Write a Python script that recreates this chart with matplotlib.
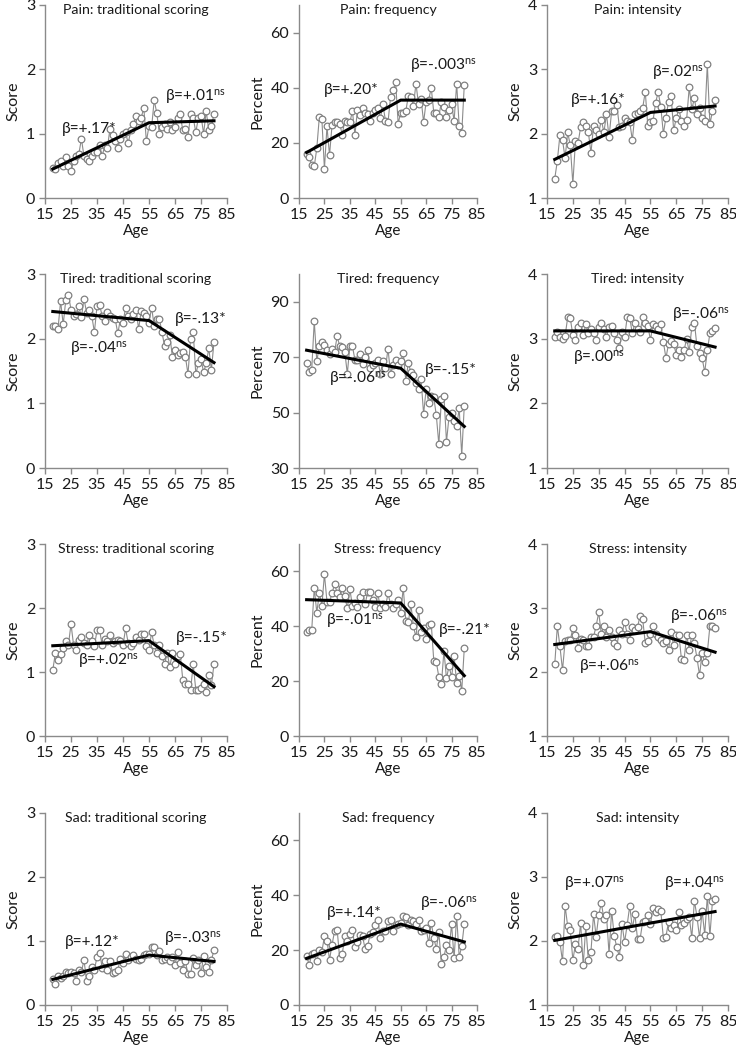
import matplotlib
matplotlib.use("Agg")
import matplotlib.pyplot as plt

plt.rcParams['font.family'] = ['Lato', 'DejaVu Sans']
plt.rcParams['mathtext.fontset'] = 'custom'
plt.rcParams['mathtext.rm'] = 'Lato'
plt.rcParams['mathtext.it'] = 'Lato:italic'

# ages 18..80, one point per year
ages = list(range(18, 81))
fit_ages = [18, 55, 80]

# ---- Pain ----
pain_trad = [0.47, 0.45, 0.55, 0.58, 0.50, 0.63, 0.50, 0.42, 0.58, 0.65, 0.68, 0.92, 0.65, 0.60, 0.57, 0.66,
             0.72, 0.72, 0.82, 0.65, 0.82, 0.78, 1.08, 0.98, 0.88, 0.78, 0.92, 1.00, 1.02, 0.85, 1.05, 1.15,
             1.28, 1.20, 1.25, 1.40, 0.88, 1.12, 1.10, 1.52, 1.32, 1.00, 1.10, 1.15, 1.08, 1.18, 1.05, 1.10,
             1.25, 1.30, 1.05, 1.08, 0.95, 1.30, 1.25, 1.02, 1.25, 1.28, 1.00, 1.35, 1.05, 1.12, 1.30]
pain_trad_fit = [0.45, 1.17, 1.20]

pain_freq = [16, 15, 12, 11.5, 18, 29.5, 28.5, 10.5, 26, 15.5, 26.5, 27.5, 27.5, 27, 23, 28, 27.5, 27.5,
             31.5, 23, 32, 30, 32.5, 31, 30.5, 28, 31, 32, 32.5, 29, 34, 28, 27.5, 36.5, 39, 42, 27, 31,
             31, 31.5, 37, 36.5, 33.5, 41.5, 34, 36, 27.5, 35, 35.5, 40, 31, 31, 29.5, 35, 33, 29.5, 32,
             34, 28, 41.5, 26, 23.5, 41]
pain_freq_fit = [16.5, 35.5, 35.5]

pain_int = [1.30, 1.58, 1.98, 1.90, 1.62, 2.02, 1.82, 1.22, 1.88, 1.85, 2.10, 2.18, 2.12, 2.02, 1.70, 2.12,
            2.05, 2.00, 2.22, 2.02, 2.30, 1.95, 2.35, 2.35, 2.45, 2.10, 2.12, 2.25, 2.20, 2.18, 1.90, 2.30,
            2.32, 2.35, 2.40, 2.65, 2.12, 2.18, 2.20, 2.48, 2.65, 2.42, 2.00, 2.25, 2.50, 2.58, 2.05, 2.25,
            2.38, 2.20, 2.12, 2.22, 2.72, 2.38, 2.55, 2.30, 2.40, 2.25, 2.20, 3.08, 2.15, 2.35, 2.52]
pain_int_fit = [1.60, 2.33, 2.43]

# ---- Tired ----
tired_trad = [2.20, 2.20, 2.15, 2.58, 2.22, 2.60, 2.68, 2.45, 2.35, 2.38, 2.50, 2.33, 2.62, 2.40, 2.45, 2.35,
              2.10, 2.50, 2.52, 2.35, 2.28, 2.42, 2.35, 2.32, 2.30, 2.08, 2.30, 2.25, 2.48, 2.35, 2.30, 2.38,
              2.45, 2.15, 2.43, 2.40, 2.35, 2.25, 2.48, 2.20, 2.30, 2.30, 2.10, 1.88, 1.95, 2.05, 1.72, 1.82,
              1.75, 1.78, 1.80, 1.72, 1.45, 2.00, 2.10, 1.45, 1.62, 1.68, 1.48, 1.62, 1.85, 1.52, 1.95]
tired_trad_fit = [2.42, 2.28, 1.63]

tired_freq = [68, 64.5, 65.5, 83, 68.5, 74, 75.5, 74.5, 72.5, 71, 73, 72, 77.5, 74, 73.5, 72, 64, 74, 74, 69,
              69, 71, 67.5, 70, 72.5, 66, 67, 68, 69, 64, 68.5, 66, 73, 64, 67, 69, 67, 68.5, 71.5, 61.5, 68,
              64.5, 63.5, 60.5, 58.5, 62, 49.5, 58.5, 53.5, 56, 55.5, 49, 38.5, 55, 56, 39.5, 48.5, 50, 47,
              45, 51.5, 34.5, 52.5]
tired_freq_fit = [72.5, 66, 45]

tired_int = [3.02, 3.10, 3.03, 3.00, 3.04, 3.33, 3.32, 3.05, 2.98, 3.18, 3.25, 3.05, 3.22, 3.08, 3.15, 3.08,
             2.98, 3.18, 3.25, 3.15, 3.03, 3.18, 3.20, 3.08, 2.98, 2.85, 3.10, 3.02, 3.33, 3.32, 3.08, 3.25,
             3.15, 3.10, 3.33, 3.25, 3.20, 2.98, 3.22, 3.20, 3.15, 3.22, 2.95, 2.70, 2.92, 2.97, 2.92, 2.75,
             2.82, 2.72, 2.82, 3.00, 2.80, 3.18, 3.25, 2.88, 2.78, 2.70, 2.48, 2.82, 3.08, 3.12, 3.17]
tired_int_fit = [3.12, 3.12, 2.87]

# ---- Stress ----
stress_trad = [1.03, 1.30, 1.18, 1.28, 1.38, 1.48, 1.42, 1.75, 1.42, 1.35, 1.50, 1.55, 1.45, 1.42, 1.58, 1.48,
               1.40, 1.65, 1.65, 1.42, 1.52, 1.48, 1.58, 1.45, 1.48, 1.50, 1.48, 1.42, 1.68, 1.45, 1.40, 1.45,
               1.55, 1.50, 1.60, 1.60, 1.40, 1.35, 1.62, 1.42, 1.30, 1.42, 1.25, 1.12, 1.30, 1.08, 1.30, 1.12,
               1.25, 1.28, 0.88, 0.82, 0.82, 0.72, 1.12, 0.72, 0.72, 0.75, 0.82, 0.68, 0.95, 0.80, 1.12]
stress_trad_fit = [1.41, 1.49, 0.77]

stress_freq = [38, 38.5, 38.5, 54, 45, 52, 47.5, 59, 49, 49, 52, 55.5, 52, 50.5, 54, 51, 46.5, 53.5, 47.5,
               48.5, 47, 50.5, 52.5, 48, 52.5, 52.5, 49.5, 47, 52, 46.5, 48, 47, 52, 48, 46.5, 48, 49.5, 45,
               54, 42, 41.5, 48, 40, 36, 46, 38, 39.5, 35.5, 40.5, 41, 27.5, 27, 21.5, 19, 31, 21, 25.5,
               21.5, 29, 19.5, 22, 16.5, 32]
stress_freq_fit = [49.7, 48.5, 22]

stress_int = [2.12, 2.72, 2.40, 2.03, 2.48, 2.50, 2.50, 2.68, 2.58, 2.38, 2.52, 2.50, 2.40, 2.40, 2.55, 2.55,
              2.72, 2.93, 2.60, 2.72, 2.55, 2.65, 2.55, 2.45, 2.40, 2.65, 2.60, 2.78, 2.60, 2.50, 2.70, 2.65,
              2.70, 2.88, 2.83, 2.45, 2.48, 2.60, 2.72, 2.60, 2.55, 2.50, 2.45, 2.48, 2.35, 2.62, 2.42, 2.58,
              2.58, 2.20, 2.18, 2.58, 2.35, 2.58, 2.45, 2.22, 1.95, 2.30, 2.15, 2.30, 2.72, 2.72, 2.68]
stress_int_fit = [2.43, 2.63, 2.31]

# ---- Sad ----
sad_trad = [0.40, 0.33, 0.45, 0.42, 0.45, 0.52, 0.50, 0.52, 0.50, 0.38, 0.55, 0.52, 0.70, 0.38, 0.45, 0.60,
            0.55, 0.75, 0.82, 0.58, 0.68, 0.55, 0.68, 0.50, 0.52, 0.55, 0.72, 0.65, 0.80, 0.70, 0.75, 0.78,
            0.72, 0.70, 0.72, 0.78, 0.80, 0.80, 0.90, 0.90, 0.78, 0.85, 0.70, 0.72, 0.75, 0.68, 0.75, 0.62,
            0.83, 0.65, 0.55, 0.68, 0.48, 0.48, 0.73, 0.62, 0.70, 0.50, 0.76, 0.60, 0.52, 0.70, 0.86]
sad_trad_fit = [0.40, 0.78, 0.68]

sad_freq = [18, 14.5, 18.5, 19, 16, 20, 19.5, 25, 23.5, 16.5, 22, 27, 27.5, 17, 18.5, 25, 23.5, 26, 27.5,
            21, 23, 25.5, 25, 20.5, 21.5, 26, 26.5, 29, 31, 24.5, 27, 27, 30.5, 31, 27, 29, 29.5, 30, 32.5,
            32, 29, 31, 30.5, 29.5, 31, 27, 27.5, 28, 22.5, 30, 24.5, 20.5, 26.5, 15, 17.5, 22, 20, 29.5,
            17, 32.5, 17.5, 21.5, 29.5]
sad_freq_fit = [17, 29.5, 23]

sad_int = [2.07, 2.08, 1.98, 1.68, 2.55, 2.23, 2.17, 1.70, 1.95, 1.88, 2.28, 1.62, 2.23, 1.70, 1.83, 2.42,
           2.07, 2.40, 2.60, 2.35, 2.40, 1.80, 2.47, 2.08, 1.90, 1.75, 2.27, 1.98, 2.25, 2.55, 2.20, 2.42,
           2.03, 2.03, 2.30, 2.32, 2.40, 2.27, 2.52, 2.45, 2.50, 2.47, 2.05, 2.07, 2.30, 2.20, 2.25, 2.17,
           2.45, 2.25, 2.28, 2.35, 2.38, 2.05, 2.63, 2.38, 2.05, 2.47, 2.10, 2.70, 2.08, 2.63, 2.65]
sad_int_fit = [2.01, 2.28, 2.46]

titles = [["Pain: traditional scoring", "Pain: frequency", "Pain: intensity"],
          ["Tired: traditional scoring", "Tired: frequency", "Tired: intensity"],
          ["Stress: traditional scoring", "Stress: frequency", "Stress: intensity"],
          ["Sad: traditional scoring", "Sad: frequency", "Sad: intensity"]]

series = [[pain_trad, pain_freq, pain_int],
          [tired_trad, tired_freq, tired_int],
          [stress_trad, stress_freq, stress_int],
          [sad_trad, sad_freq, sad_int]]

fits = [[pain_trad_fit, pain_freq_fit, pain_int_fit],
        [tired_trad_fit, tired_freq_fit, tired_int_fit],
        [stress_trad_fit, stress_freq_fit, stress_int_fit],
        [sad_trad_fit, sad_freq_fit, sad_int_fit]]

# slope labels: (text before 55, text after 55)
NS = r"$^{\mathrm{ns}}$"
betas = [[("β=+.17*", "β=+.01" + NS), ("β=+.20*", "β=-.003" + NS), ("β=+.16*", "β=.02" + NS)],
         [("β=-.04" + NS, "β=-.13*"), ("β=-.06" + NS, "β=-.15*"), ("β=.00" + NS, "β=-.06" + NS)],
         [("β=+.02" + NS, "β=-.15*"), ("β=-.01" + NS, "β=-.21*"), ("β=+.06" + NS, "β=-.06" + NS)],
         [("β=+.12*", "β=-.03" + NS), ("β=+.14*", "β=-.06" + NS), ("β=+.07" + NS, "β=+.04" + NS)]]

beta_pos = [[((21.4, 1.07), (61.2, 1.56)), ((24.8, 39), (58.8, 47.6)), ((24.4, 2.52), (55.8, 2.94))],
            [((24.6, 1.83), (65, 2.30)), ((26.8, 61.8), (64.4, 65.3)), ((25, 2.70), (63.3, 3.36))],
            [((27.5, 1.16), (65.3, 1.53)), ((25.5, 41.8), (70, 38.7)), ((27.2, 2.07), (62.7, 2.85))],
            [((22.7, 0.99), (60.6, 1.02)), ((26.1, 33.7), (62.7, 36.7)), ((21.5, 2.88), (60.3, 2.89))]]

ylims = [[(0, 3), (0, 70), (1, 4)],
         [(0, 3), (30, 100), (1, 4)],
         [(0, 3), (0, 70), (1, 4)],
         [(0, 3), (0, 70), (1, 4)]]
yticks = [[[0, 1, 2, 3], [0, 20, 40, 60], [1, 2, 3, 4]],
          [[0, 1, 2, 3], [30, 50, 70, 90], [1, 2, 3, 4]],
          [[0, 1, 2, 3], [0, 20, 40, 60], [1, 2, 3, 4]],
          [[0, 1, 2, 3], [0, 20, 40, 60], [1, 2, 3, 4]]]
ylabels = ["Score", "Percent", "Score"]
xticks = [15, 25, 35, 45, 55, 65, 75, 85]

W, H = 736, 1050
fig = plt.figure(figsize=(W / 100, H / 100), dpi=100)

col_left = [45, 299, 547]
col_width = [182, 178, 181]
row_top = [5, 274, 544, 813]
row_bottom = [198, 468, 736, 1005]

axis_gray = "#8a8a8a"
ink = "#1a1a1a"

for r in range(4):
    for c in range(3):
        ax = fig.add_axes([col_left[c] / W, 1 - row_bottom[r] / H,
                           col_width[c] / W, (row_bottom[r] - row_top[r]) / H])
        ax.plot(ages, series[r][c], color="#8c8c8c", lw=0.8, marker="o", ms=4.8,
                mfc="white", mec="#808080", mew=0.9, zorder=2)
        ax.plot(fit_ages, fits[r][c], color="black", lw=2.2, zorder=3)

        ax.set_xlim(15, 85)
        ax.set_ylim(*ylims[r][c])
        ax.set_xticks(xticks)
        ax.set_yticks(yticks[r][c])
        for s in ["top", "right"]:
            ax.spines[s].set_visible(False)
        for s in ["left", "bottom"]:
            ax.spines[s].set_color(axis_gray)
            ax.spines[s].set_linewidth(1.0)
        ax.tick_params(direction="out", length=4, width=1.0, color=axis_gray,
                       labelsize=11.5, labelcolor=ink, pad=3)
        ax.set_xlabel("Age", fontsize=11, labelpad=1.5, color=ink)
        ax.set_ylabel(ylabels[c], fontsize=11.5, labelpad=4, color=ink)

        ax.text(0.5, 0.975, titles[r][c], transform=ax.transAxes, ha="center", va="center",
                fontsize=10.2, color=ink)
        (p1, p2) = beta_pos[r][c]
        (t1, t2) = betas[r][c]
        ax.text(p1[0], p1[1], t1, ha="left", va="center", fontsize=11.2, color=ink)
        ax.text(p2[0], p2[1], t2, ha="left", va="center", fontsize=11.2, color=ink)

fig.savefig("out.png", dpi=100)
